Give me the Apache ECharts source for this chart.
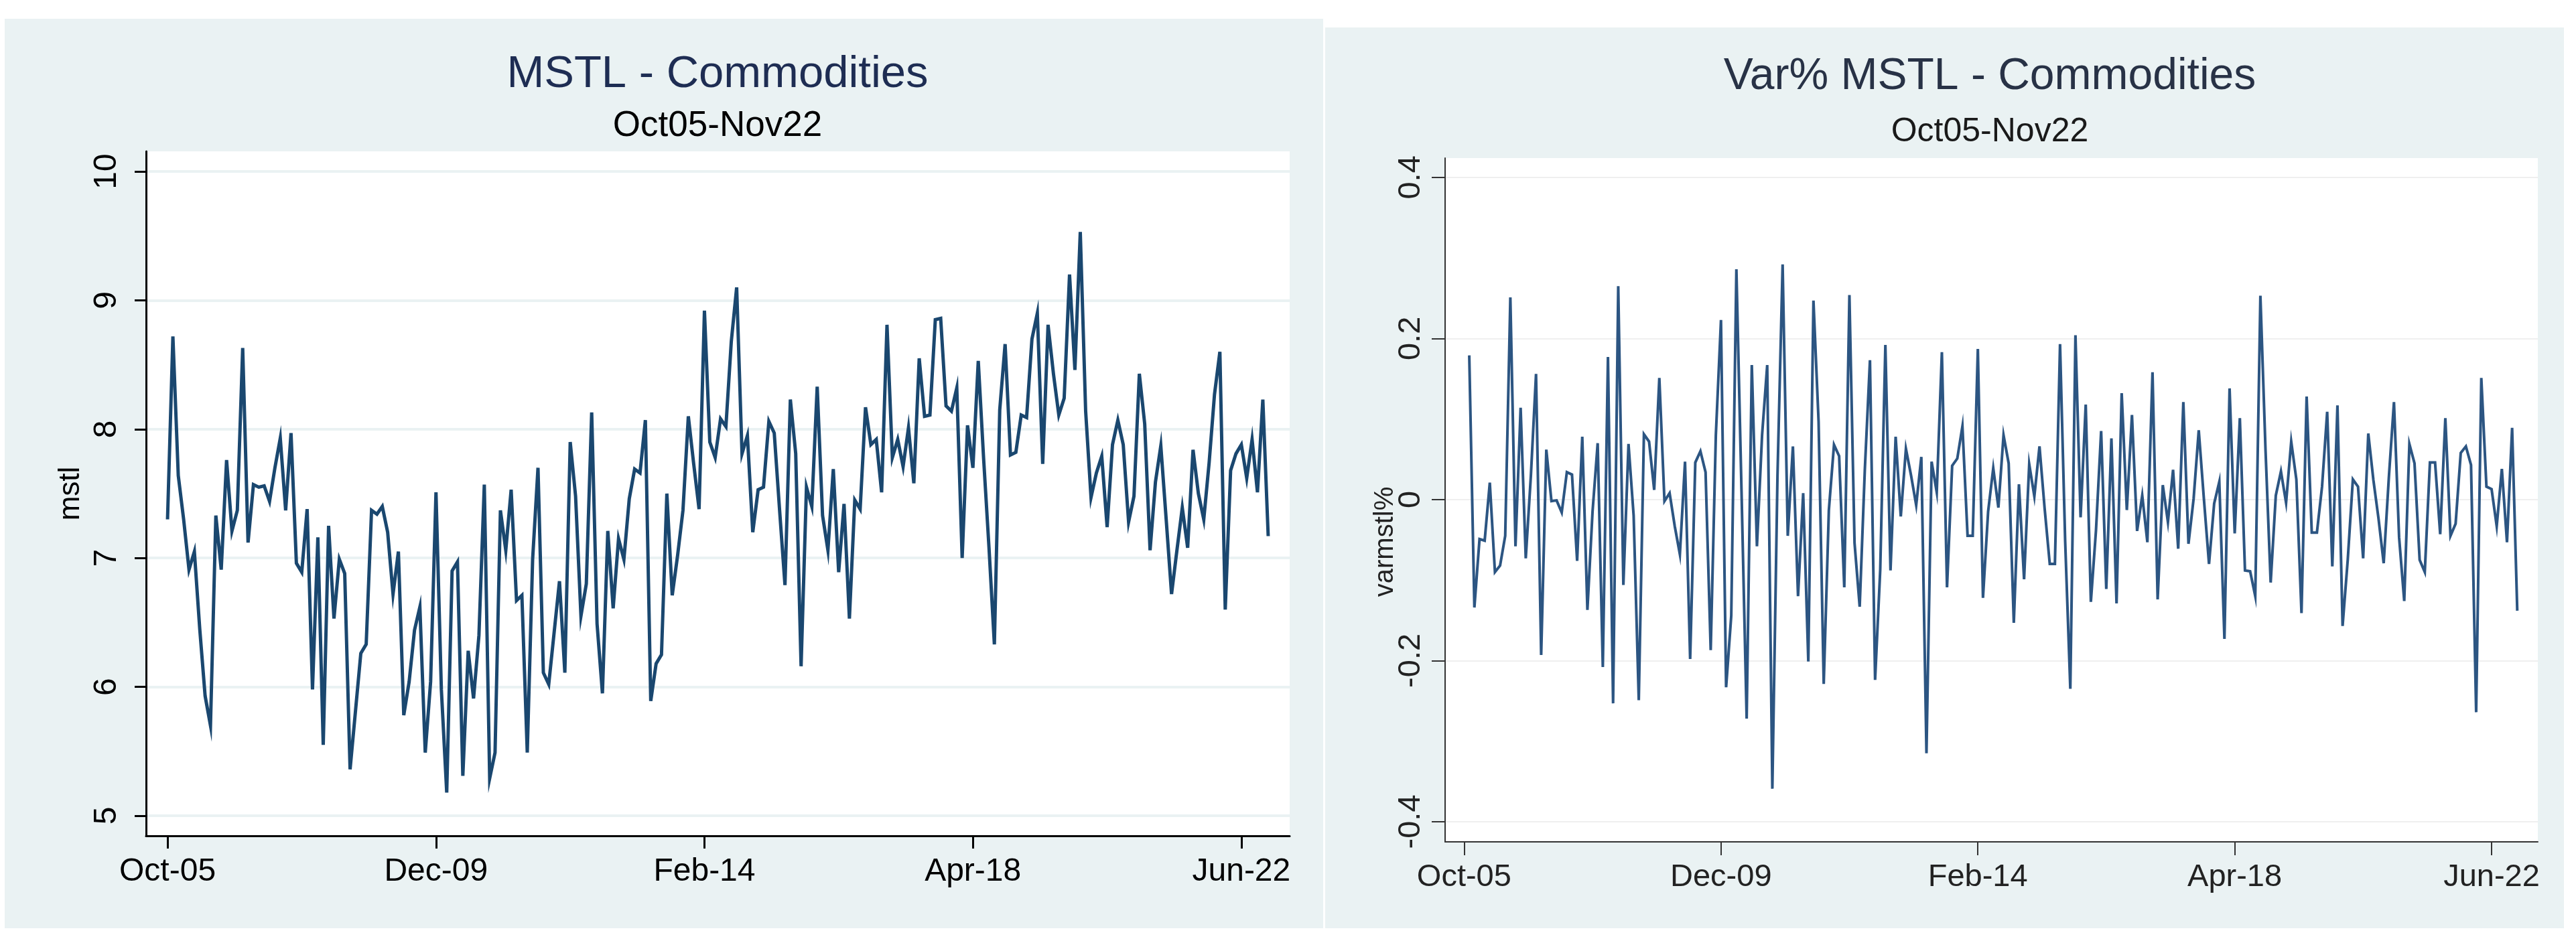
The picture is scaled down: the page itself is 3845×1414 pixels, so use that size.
<!DOCTYPE html>
<html>
<head>
<meta charset="utf-8">
<script src="https://cdn.jsdelivr.net/npm/echarts@6/dist/echarts.min.js"></script>
<style>
  html, body { margin:0; padding:0; background:#ffffff; width:3845px; height:1414px; overflow:hidden; }
  #p1 { position:absolute; left:7px; top:28px; width:1968px; height:1358px; background:#eaf2f3; }
  #p2 { position:absolute; left:1978px; top:41px; width:1849px; height:1345px; background:#eaf2f3; }
</style>
</head>
<body>
<div id="p1"></div>
<div id="p2"></div>
<script>
// ---- data (monthly, index 0 = Oct-05) ----
const xTickValues = [0, 50, 100, 150, 200];
const xTickLabels = ['Oct-05', 'Dec-09', 'Feb-14', 'Apr-18', 'Jun-22'];
const mstlTicks = [5, 6, 7, 8, 9, 10];
const varTicks = [-0.4, -0.2, 0, 0.2, 0.4];

const mstl = [
  7.30, 8.72, 7.64, 7.30, 6.91, 7.05, 6.45, 5.93, 5.70, 7.33,
  6.91, 7.76, 7.21, 7.37, 8.63, 7.12, 7.57, 7.55, 7.56, 7.44,
  7.70, 7.93, 7.37, 7.97, 6.96, 6.89, 7.38, 5.98, 7.16, 5.55,
  7.25, 6.53, 6.99, 6.88, 5.36, 5.81, 6.26, 6.33, 7.37, 7.34,
  7.40, 7.20, 6.72, 7.05, 5.78, 6.04, 6.44, 6.62, 5.49, 6.04,
  7.51, 5.98, 5.18, 6.90, 6.97, 5.31, 6.28, 5.91, 6.40, 7.57,
  5.29, 5.49, 7.37, 7.06, 7.53, 6.67, 6.71, 5.49, 6.99, 7.70,
  6.11, 6.02, 6.42, 6.82, 6.11, 7.90, 7.48, 6.55, 6.80, 8.13,
  6.49, 5.95, 7.21, 6.61, 7.15, 6.99, 7.46, 7.69, 7.66, 8.07,
  5.89, 6.18, 6.25, 7.50, 6.71, 7.02, 7.37, 8.10, 7.73, 7.38,
  8.92, 7.90, 7.78, 8.08, 8.02, 8.68, 9.10, 7.81, 7.95, 7.20,
  7.53, 7.55, 8.06, 7.97, 7.37, 6.79, 8.23, 7.81, 6.16, 7.55,
  7.40, 8.33, 7.33, 7.06, 7.69, 6.89, 7.42, 6.53, 7.45, 7.38,
  8.17, 7.88, 7.92, 7.51, 8.81, 7.78, 7.92, 7.71, 8.01, 7.58,
  8.55, 8.10, 8.11, 8.85, 8.86, 8.18, 8.14, 8.32, 7.00, 8.03,
  7.70, 8.53, 7.77, 7.08, 6.33, 8.15, 8.66, 7.80, 7.82, 8.11,
  8.09, 8.70, 8.90, 7.73, 8.81, 8.43, 8.11, 8.24, 9.20, 8.46,
  9.53, 8.14, 7.47, 7.66, 7.79, 7.24, 7.88, 8.07, 7.88, 7.28,
  7.48, 8.43, 8.04, 7.06, 7.59, 7.87, 7.30, 6.72, 7.06, 7.39,
  7.08, 7.84, 7.50, 7.30, 7.74, 8.27, 8.60, 6.60, 7.68, 7.81,
  7.88, 7.62, 7.92, 7.51, 8.23, 7.17
];

// var% series starts one month later (index 1 = Nov-05)
const varStart = 1;
const varmstl = [
  0.179, -0.134, -0.049, -0.051, 0.021, -0.090, -0.082, -0.045, 0.251, -0.058,
  0.114, -0.073, 0.030, 0.156, -0.193, 0.062, -0.002, -0.001, -0.016, 0.034,
  0.031, -0.076, 0.078, -0.137, -0.015, 0.070, -0.208, 0.177, -0.253, 0.265,
  -0.106, 0.069, -0.020, -0.249, 0.081, 0.072, 0.012, 0.151, -0.002, 0.008,
  -0.033, -0.068, 0.047, -0.198, 0.046, 0.060, 0.034, -0.187, 0.080, 0.223,
  -0.233, -0.144, 0.286, 0.010, -0.272, 0.167, -0.058, 0.080, 0.167, -0.359,
  0.030, 0.292, -0.045, 0.066, -0.120, 0.008, -0.201, 0.247, 0.097, -0.229,
  -0.013, 0.068, 0.054, -0.109, 0.254, -0.054, -0.133, 0.037, 0.173, -0.224,
  -0.087, 0.192, -0.088, 0.078, -0.021, 0.063, 0.030, -0.007, 0.053, -0.315,
  0.047, 0.009, 0.183, -0.109, 0.042, 0.051, 0.091, -0.045, -0.045, 0.187,
  -0.122, -0.015, 0.039, -0.010, 0.080, 0.045, -0.153, 0.019, -0.099, 0.044,
  0.004, 0.066, -0.011, -0.080, -0.080, 0.193, -0.052, -0.235, 0.204, -0.022,
  0.118, -0.127, -0.038, 0.085, -0.111, 0.076, -0.129, 0.132, -0.013, 0.105,
  -0.039, 0.005, -0.053, 0.158, -0.124, 0.018, -0.028, 0.037, -0.061, 0.121,
  -0.055, 0.001, 0.086, 0.001, -0.080, -0.005, 0.022, -0.173, 0.138, -0.042,
  0.101, -0.088, -0.089, -0.120, 0.253, 0.061, -0.103, 0.005, 0.035, -0.004,
  0.072, 0.025, -0.141, 0.128, -0.041, -0.041, 0.016, 0.109, -0.083, 0.117,
  -0.157, -0.075, 0.025, 0.016, -0.073, 0.082, 0.024, -0.024, -0.079, 0.027,
  0.121, -0.047, -0.126, 0.069, 0.045, -0.075, -0.090, 0.046, 0.046, -0.043,
  0.101, -0.045, -0.030, 0.058, 0.066, 0.043, -0.264, 0.151, 0.016, 0.013,
  -0.033, 0.038, -0.053, 0.089, -0.138
];

const FONT = '"Liberation Sans", Arial, sans-serif';
const xFmt = v => { const i = xTickValues.indexOf(Math.round(v)); return i >= 0 ? xTickLabels[i] : ''; };

// ---------- left chart ----------
const c1 = echarts.init(document.getElementById('p1'), null, {renderer:'canvas'});
c1.setOption({
  animation: false,
  backgroundColor: 'transparent',
  textStyle: { fontFamily: FONT },
  graphic: [
    { type:'text', x:1064, y:84, style:{ text:'MSTL - Commodities', fontFamily:FONT, fontSize:67, fill:'#1e2d53', align:'center', verticalAlign:'middle' } },
    { type:'text', x:1064, y:160, style:{ text:'Oct05-Nov22', fontFamily:FONT, fontSize:53, fill:'#000000', align:'center', verticalAlign:'middle' } }
  ],
  grid: { left:211, top:198, width:1707, height:1022, show:true, backgroundColor:'#ffffff', borderWidth:0 },
  xAxis: {
    type:'value', min:-4, max:209,
    axisLine:{ show:true, onZero:false, lineStyle:{ color:'#000', width:3 } },
    axisTick:{ show:true, customValues: xTickValues, length:19, lineStyle:{ color:'#000', width:3 } },
    axisLabel:{ customValues: xTickValues, formatter: xFmt, fontFamily:FONT, fontSize:48, color:'#000', margin:30 },
    splitLine:{ show:false }
  },
  yAxis: {
    type:'value', min:4.844, max:10.156,
    name:'mstl', nameLocation:'middle', nameGap:80, nameRotate:90,
    nameTextStyle:{ fontFamily:FONT, fontSize:44, color:'#000' },
    axisLine:{ show:true, onZero:false, lineStyle:{ color:'#000', width:3 } },
    axisTick:{ show:true, customValues: mstlTicks, length:17, lineStyle:{ color:'#000', width:3 } },
    axisLabel:{ customValues: mstlTicks, rotate:90, fontFamily:FONT, fontSize:48, color:'#000', margin:34 },
    splitLine:{ show:true, lineStyle:{ color:'#eaf2f3', width:4 } }
  },
  series: [{
    type:'line', showSymbol:false, symbol:'none',
    data: mstl.map((v, i) => [i, v]),
    lineStyle:{ color:'#1a476f', width:5, join:'miter' }
  }]
});

// ---------- right chart ----------
const c2 = echarts.init(document.getElementById('p2'), null, {renderer:'canvas'});
c2.setOption({
  animation: false,
  backgroundColor: 'transparent',
  textStyle: { fontFamily: FONT },
  graphic: [
    { type:'text', x:992, y:74, style:{ text:'Var% MSTL - Commodities', fontFamily:FONT, fontSize:66, fill:'#283246', align:'center', verticalAlign:'middle' } },
    { type:'text', x:992, y:156, style:{ text:'Oct05-Nov22', fontFamily:FONT, fontSize:50, fill:'#1a1a1a', align:'center', verticalAlign:'middle' } },
    { type:'text', x:90, y:768, rotation: Math.PI / 2, style:{ text:'varmstl%', fontFamily:FONT, fontSize:40, fill:'#222', align:'center', verticalAlign:'middle' } }
  ],
  grid: { left:179, top:195, width:1631, height:1021, show:true, backgroundColor:'#ffffff', borderWidth:0 },
  xAxis: {
    type:'value', min:-3.7, max:209,
    axisLine:{ show:true, onZero:false, lineStyle:{ color:'#333', width:2 } },
    axisTick:{ show:true, customValues: xTickValues, length:20, lineStyle:{ color:'#333', width:2 } },
    axisLabel:{ customValues: xTickValues, formatter: xFmt, fontFamily:FONT, fontSize:47, color:'#222', margin:30 },
    splitLine:{ show:false }
  },
  yAxis: {
    type:'value', min:-0.425, max:0.424,
    axisLine:{ show:true, onZero:false, lineStyle:{ color:'#333', width:2 } },
    axisTick:{ show:true, customValues: varTicks, length:20, lineStyle:{ color:'#333', width:2 } },
    axisLabel:{ customValues: varTicks, rotate:90, fontFamily:FONT, fontSize:47, color:'#222', margin:27,
      formatter: v => (Math.abs(v) < 1e-9 ? '0' : v.toFixed(1)) },
    splitLine:{ show:true, lineStyle:{ color:'#efefef', width:2 } }
  },
  series: [{
    type:'line', showSymbol:false, symbol:'none',
    data: varmstl.map((v, i) => [i + varStart, v]),
    lineStyle:{ color:'#2c5582', width:4, join:'miter' }
  }]
});
</script>
</body>
</html>
